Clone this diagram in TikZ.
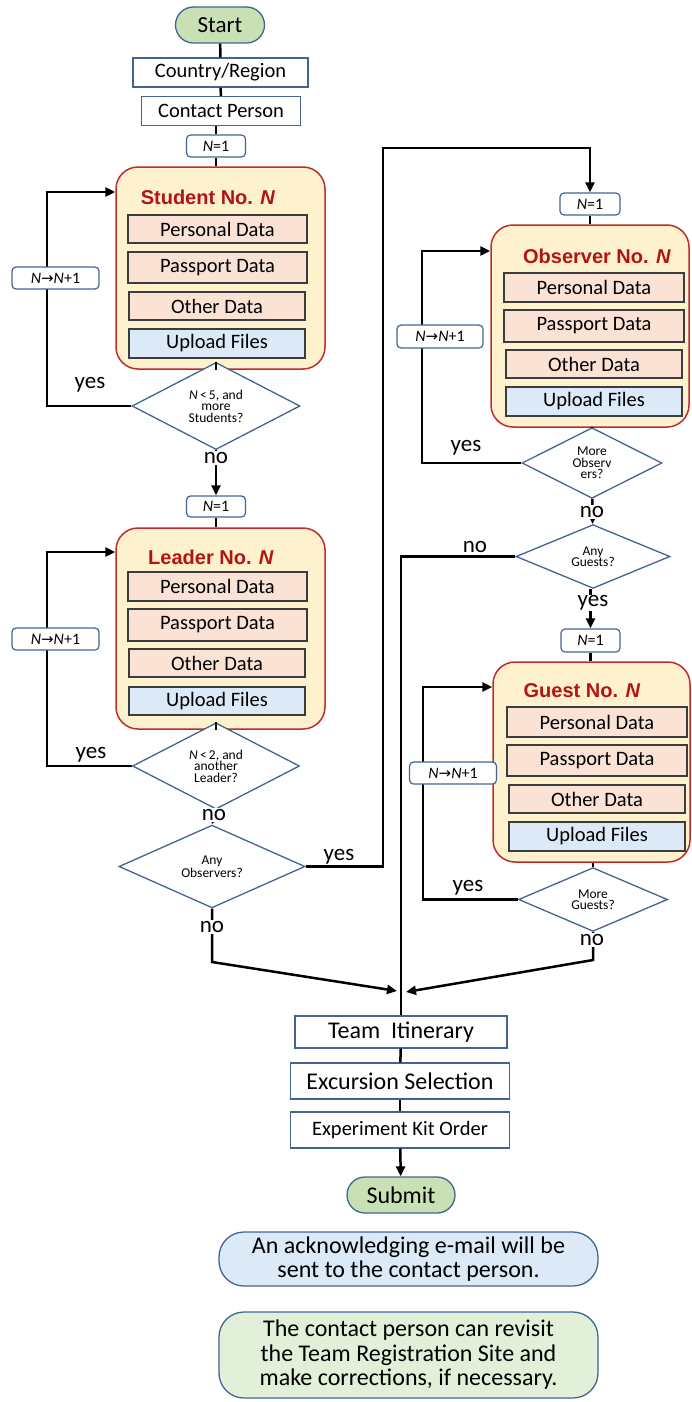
\documentclass[tikz,border=0pt]{standalone}
\usepackage{fontspec}
\setmainfont{Carlito}
\newfontfamily\titlefont{Liberation Sans}
\newfontfamily\symfont{DejaVu Sans}
\usetikzlibrary{shapes.geometric,arrows.meta,calc}
\definecolor{bordblue}{RGB}{65,100,150}
\definecolor{startgreen}{RGB}{200,224,180}
\definecolor{notegreen}{RGB}{226,239,217}
\definecolor{noteblue}{RGB}{220,233,246}
\definecolor{contfill}{RGB}{254,241,206}
\definecolor{contborder}{RGB}{190,45,45}
\definecolor{titlered}{RGB}{178,20,20}
\definecolor{datafill}{RGB}{250,226,213}
\definecolor{upfill}{RGB}{220,233,246}
\definecolor{databorder}{RGB}{60,60,60}
\tikzset{
  terminal/.style={draw=bordblue, line width=1.3pt, fill=startgreen, rounded corners=18pt, minimum height=36pt, inner sep=0pt, font=\fontsize{23}{24}\selectfont},
  rectbox/.style={draw=bordblue, line width=1.3pt, fill=white, inner sep=0pt, font=\fontsize{20.5}{22}\selectfont},
  nbox/.style={draw=bordblue, line width=1.2pt, fill=white, rounded corners=4pt, inner sep=0pt, minimum height=22pt, font=\fontsize{16}{16}\selectfont},
  container/.style={draw=contborder, line width=1.5pt, fill=contfill, rounded corners=22pt, inner sep=0pt},
  databox/.style={draw=databorder, line width=1.2pt, fill=datafill, inner sep=0pt, minimum height=29pt, font=\fontsize{20.5}{22}\selectfont},
  upbox/.style={databox, fill=upfill},
  decision/.style={diamond, draw=bordblue, line width=1.3pt, fill=white, inner sep=0pt, align=center, font=\fontsize{13.5}{11.5}\selectfont},
  ctitle/.style={text=titlered, font=\titlefont\bfseries\fontsize{20}{22}\selectfont, inner sep=0pt},
  conn/.style={line width=2.5pt, draw=black},
  arr/.style={conn, -{Triangle[length=10pt,width=9pt]}},
  lab/.style={font=\fontsize{23}{24}\selectfont, inner sep=1pt},
  labw/.style={lab, fill=white},
  note/.style={draw=bordblue, line width=1.3pt, rounded corners=25pt, inner sep=0pt, align=center, font=\fontsize{24}{24.5}\selectfont}
}
\newcommand{\NN}{\textit{N}}
\newcommand{\incr}{\NN{\symfont\fontsize{15}{15}\selectfont→}\NN+1}
\begin{document}
\begin{tikzpicture}[x=1pt,y=-1pt]
\fill[white] (0,0) rectangle (691,1402);
\useasboundingbox (0,0) rectangle (691,1402);

% ---------- left column ----------
\node[terminal, minimum width=89pt] (start) at (220,25) {Start};
\node[rectbox, minimum width=175pt, minimum height=29pt] (country) at (220.5,72.5) {Country/Region};
\node[rectbox, minimum width=159pt, minimum height=29pt] (contact) at (221,111) {Contact Person};
\node[nbox, minimum width=59pt] (n1a) at (216,146) {\NN=1};

\node[container, minimum width=209pt, minimum height=202pt] (scont) at (220.5,268) {};
\node[ctitle] (stitle) at (208,197) {Student No. \textit{N}};
\node[databox, minimum width=179pt, minimum height=28pt] (sp1) at (217.5,229) {Personal Data};
\node[databox, minimum width=179pt, minimum height=31pt] (sp2) at (217.5,267.5) {Passport Data};
\node[databox, minimum width=176pt, minimum height=28pt] (sp3) at (217,306) {Other Data};
\node[upbox, minimum width=176pt, minimum height=29pt] (sp4) at (217,343.5) {Upload Files};
\node[decision, minimum width=168pt, minimum height=60pt] (sq) at (216,406) {\NN\,<\,5, and\\more\\Students?};

\node[nbox, minimum width=59pt, minimum height=21pt] (n1b) at (216,506.5) {\NN=1};
\node[container, minimum width=209pt, minimum height=201pt] (lcont) at (220.5,628.5) {};
\node[ctitle] (ltitle) at (211,557) {Leader No. \textit{N}};
\node[databox, minimum width=179pt, minimum height=29pt] (lp1) at (217.5,586.5) {Personal Data};
\node[databox, minimum width=179pt, minimum height=32pt] (lp2) at (217.5,625) {Passport Data};
\node[databox, minimum width=176pt, minimum height=28pt] (lp3) at (217,663) {Other Data};
\node[upbox, minimum width=176pt, minimum height=28pt] (lp4) at (217,701) {Upload Files};
\node[decision, minimum width=167pt, minimum height=58pt] (lq) at (216,766) {\NN\,<\,2, and\\another\\Leader?};

\node[decision, minimum width=186pt, minimum height=45pt] (aoq) at (212,866.5) {Any\\Observers?};

% ---------- right column ----------
\coordinate (otop) at (383,148);
\node[nbox, minimum width=60pt] (on1) at (590,204) {\NN=1};
\node[container, minimum width=198pt, minimum height=202pt] (ocont) at (590,326) {};
\node[ctitle] (otitle) at (597,256) {Observer No. \textit{N}};
\node[databox, minimum width=180pt, minimum height=29pt] (op1) at (594,287.5) {Personal Data};
\node[databox, minimum width=180pt, minimum height=32pt] (op2) at (594,326) {Passport Data};
\node[databox, minimum width=176pt, minimum height=28pt] (op3) at (594,364) {Other Data};
\node[upbox, minimum width=176pt, minimum height=29pt] (op4) at (594,401.5) {Upload Files};
\node[decision, minimum width=140pt, minimum height=50pt] (oq) at (592,463) {More\\Observ\\ers?};
\node[decision, minimum width=154pt, minimum height=49pt] (agq) at (593,556.5) {Any\\Guests?};

\node[nbox, minimum width=59pt, minimum height=23pt] (gn1) at (590.5,640.5) {\NN=1};
\node[container, minimum width=197pt, minimum height=200pt] (gcont) at (591.5,762) {};
\node[ctitle] (gtitle) at (582,691) {Guest No. \textit{N}};
\node[databox, minimum width=180pt, minimum height=30pt] (gp1) at (597,722) {Personal Data};
\node[databox, minimum width=180pt, minimum height=31pt] (gp2) at (597,760.5) {Passport Data};
\node[databox, minimum width=176pt, minimum height=28pt] (gp3) at (597,799) {Other Data};
\node[upbox, minimum width=176pt, minimum height=29pt] (gp4) at (597,836.5) {Upload Files};
\node[decision, minimum width=149pt, minimum height=45pt] (mgq) at (593,899.5) {More\\Guests?};

% ---------- bottom ----------
\node[rectbox, minimum width=212pt, minimum height=32pt, font=\fontsize{24}{25}\selectfont] (team) at (401,1032) {Team\ \ Itinerary};
\node[rectbox, minimum width=219pt, minimum height=36pt, font=\fontsize{24}{25}\selectfont] (exc) at (400,1081) {Excursion Selection};
\node[rectbox, minimum width=219pt, minimum height=36pt] (exp) at (400,1130) {Experiment Kit Order};
\node[terminal, minimum width=108pt, font=\fontsize{24}{25}\selectfont] (submit) at (401,1195) {Submit};
\node[note, fill=noteblue, minimum width=379pt, minimum height=54pt] (note1) at (408.5,1259) {An acknowledging e-mail will be\\sent to the contact person.};
\node[note, fill=notegreen, minimum width=379pt, minimum height=86pt] (note2) at (408.5,1355) {The contact person can revisit\\the Team Registration Site and\\make corrections, if necessary.};

% ---------- helper coordinates ----------
\coordinate (sloop) at (47,192);
\coordinate (lloop) at (47,552);
\coordinate (oloop) at (422,251);
\coordinate (gloop) at (423,687);
\coordinate (lcorner) at (212,962);
\coordinate (lend) at (397,991);
\coordinate (rcorner) at (593,960);
\coordinate (rend) at (406,992);

% ---------- connectors ----------
\draw[conn] (start) -- (country);
\draw[conn] (country) -- (contact);
\draw[conn] (contact.south -| n1a) -- (n1a);
\draw[conn] (n1a) -- (n1a |- scont.north);
\draw[conn] (scont.south -| sq) -- (sq);
\draw[arr] (sq.west) -| (sloop) -- (sloop -| scont.west);
\draw[arr] (sq) -- (n1b);
\draw[conn] (n1b) -- (n1b |- lcont.north);
\draw[conn] (lcont.south -| lq) -- (lq);
\draw[arr] (lq.west) -| (lloop) -- (lloop -| lcont.west);
\draw[arr] (lq.south) -- (aoq.north);
\draw[arr] (aoq.east) -| (otop) -| (on1.north);
\draw[conn] (on1) -- (on1 |- ocont.north);
\draw[conn] (ocont.south -| oq) -- (oq);
\draw[arr] (oq.west) -| (oloop) -- (oloop -| ocont.west);
\draw[arr] (oq) -- (agq);
\draw[arr] (agq.south -| gn1) -- (gn1);
\draw[conn] (gn1) -- (gn1 |- gcont.north);
\draw[conn] (gcont.south -| mgq) -- (mgq);
\draw[arr] (mgq.west) -| (gloop) -- (gloop -| gcont.west);
\draw[conn] (agq.west) -| (team.north);
\draw[arr] (aoq.south) -- (lcorner) -- (lend);
\draw[arr] (mgq.south) -- (rcorner) -- (rend);
\draw[conn] (team) -- (exc);
\draw[conn] (exc) -- (exp);
\draw[arr] (exp) -- (submit);

% ---------- increment boxes and labels ----------
\node[nbox, minimum width=87pt] (sinc) at (55.5,278) {\incr};
\node[nbox, minimum width=87pt] (linc) at (55.5,639) {\incr};
\node[nbox, minimum width=86pt, minimum height=23pt] (oinc) at (440,336.5) {\incr};
\node[nbox, minimum width=87pt] (ginc) at (453,773) {\incr};

\node[lab] (syes) at (90,385) {yes};
\node[labw] (sno) at (216,458) {no};
\node[lab] (lyes) at (91,755) {yes};
\node[labw] (lno) at (214,815) {no};
\node[lab] (aoyes) at (339,857) {yes};
\node[labw] (aono) at (212,927) {no};
\node[lab] (oyes) at (466,448) {yes};
\node[labw] (ono) at (592,512) {no};
\node[lab] (agno) at (475,547) {no};
\node[labw] (agyes) at (593,603) {yes};
\node[lab] (gyes) at (468,888) {yes};
\node[labw] (gno) at (592,940) {no};
\end{tikzpicture}
\end{document}
